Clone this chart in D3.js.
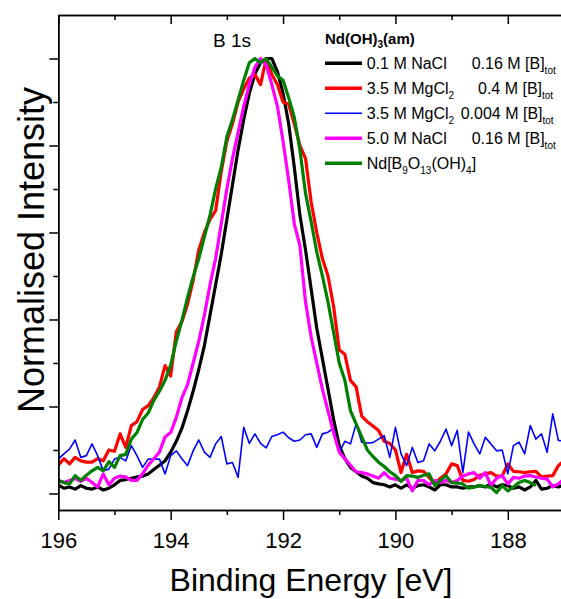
<!DOCTYPE html>
<meta charset="utf-8">
<script src="https://d3js.org/d3.v7.min.js"></script>
<style>
  body { margin: 0; background: #fff; }
  text { font-family: "Liberation Sans", Arial, sans-serif; }
</style>
<div id="chart"></div>
<script>

// binding energy grid (eV), 0.1 eV steps
var energy = [
  196.0,195.9,195.8,195.7,195.6,195.5,195.4,195.3,195.2,195.1,
  195.0,194.9,194.8,194.7,194.6,194.5,194.4,194.3,194.2,194.1,
  194.0,193.9,193.8,193.7,193.6,193.5,193.4,193.3,193.2,193.1,
  193.0,192.9,192.8,192.7,192.6,192.5,192.4,192.3,192.2,192.1,
  192.0,191.9,191.8,191.7,191.6,191.5,191.4,191.3,191.2,191.1,
  191.0,190.9,190.8,190.7,190.6,190.5,190.4,190.3,190.2,190.1,
  190.0,189.9,189.8,189.7,189.6,189.5,189.4,189.3,189.2,189.1,
  189.0,188.9,188.8,188.7,188.6,188.5,188.4,188.3,188.2,188.1,
  188.0,187.9,187.8,187.7,187.6,187.5,187.4,187.3,187.2,187.1,
  187.0
];

// 0.1 M NaCl, 0.16 M [B]tot
var nacl01 = [
  0.020,0.012,0.015,0.010,0.018,0.012,0.010,0.015,0.008,0.012,
  0.020,0.030,0.032,0.035,0.038,0.040,0.045,0.055,0.065,0.075,
  0.095,0.120,0.150,0.190,0.235,0.285,0.340,0.410,0.480,0.550,
  0.630,0.710,0.790,0.860,0.920,0.965,0.990,1.000,1.000,0.970,
  0.920,0.850,0.750,0.640,0.560,0.470,0.380,0.310,0.240,0.170,
  0.110,0.080,0.060,0.050,0.040,0.035,0.025,0.022,0.020,0.015,
  0.020,0.012,0.020,0.012,0.018,0.020,0.015,0.008,0.020,0.020,
  0.015,0.015,0.012,0.015,0.015,0.018,0.015,0.022,0.015,0.020,
  0.018,0.012,0.015,0.008,0.015,0.030,0.010,0.012,0.018,0.015,
  0.020
];

// 3.5 M MgCl2, 0.4 M [B]tot
var mgcl04 = [
  0.065,0.080,0.068,0.083,0.075,0.072,0.072,0.080,0.075,0.100,
  0.097,0.137,0.106,0.156,0.165,0.193,0.202,0.220,0.245,0.294,
  0.270,0.372,0.395,0.435,0.490,0.560,0.600,0.630,0.650,0.740,
  0.810,0.850,0.900,0.930,0.955,0.963,0.940,1.000,0.963,0.940,
  0.900,0.895,0.850,0.800,0.770,0.670,0.600,0.540,0.500,0.430,
  0.330,0.320,0.260,0.245,0.178,0.165,0.155,0.145,0.120,0.115,
  0.100,0.048,0.090,0.048,0.052,0.051,0.037,0.022,0.035,0.045,
  0.068,0.064,0.030,0.028,0.032,0.042,0.045,0.048,0.040,0.040,
  0.068,0.051,0.050,0.048,0.050,0.051,0.038,0.040,0.041,0.064,
  0.075
];

// 3.5 M MgCl2, 0.004 M [B]tot
var mgcl0004 = [
  0.079,0.091,0.102,0.123,0.083,0.087,0.114,0.087,0.052,0.056,
  0.079,0.083,0.075,0.110,0.087,0.060,0.079,0.079,0.079,0.045,
  0.087,0.098,0.080,0.064,0.098,0.123,0.095,0.083,0.114,0.131,
  0.068,0.071,0.037,0.152,0.115,0.137,0.115,0.105,0.131,0.135,
  0.141,0.128,0.120,0.123,0.135,0.137,0.106,0.137,0.141,0.150,
  0.095,0.120,0.114,0.160,0.118,0.116,0.117,0.125,0.133,0.083,
  0.152,0.091,0.064,0.106,0.071,0.075,0.114,0.098,0.120,0.148,
  0.110,0.145,0.048,0.141,0.114,0.091,0.129,0.114,0.098,0.100,
  0.045,0.110,0.118,0.091,0.156,0.125,0.137,0.095,0.183,0.122,
  0.120
];

// 5.0 M NaCl, 0.16 M [B]tot
var nacl50 = [
  0.030,0.025,0.030,0.035,0.028,0.035,0.025,0.015,0.045,0.020,
  0.035,0.040,0.038,0.030,0.030,0.045,0.065,0.080,0.095,0.130,
  0.140,0.175,0.220,0.250,0.300,0.350,0.410,0.480,0.540,0.620,
  0.700,0.770,0.830,0.890,0.940,0.980,1.000,0.985,0.940,0.890,
  0.810,0.720,0.620,0.570,0.440,0.360,0.300,0.240,0.190,0.140,
  0.095,0.080,0.065,0.050,0.048,0.045,0.040,0.035,0.048,0.035,
  0.033,0.030,0.035,0.006,0.030,0.030,0.020,0.030,0.025,0.030,
  0.025,0.030,0.040,0.045,0.048,0.035,0.048,0.018,0.035,0.041,
  0.022,0.037,0.035,0.040,0.041,0.038,0.035,0.033,0.015,0.022,
  0.033
];

// Nd[B9O13(OH)4] reference (ends at 187.5 eV)
var ndBorate = [
  0.030,0.025,0.022,0.041,0.030,0.042,0.052,0.060,0.052,0.073,
  0.060,0.087,0.090,0.125,0.140,0.170,0.185,0.214,0.235,0.260,
  0.295,0.350,0.398,0.450,0.498,0.540,0.590,0.640,0.700,0.750,
  0.820,0.860,0.905,0.950,0.990,1.000,0.990,1.000,0.980,0.960,
  0.950,0.910,0.865,0.790,0.690,0.625,0.555,0.500,0.440,0.370,
  0.300,0.260,0.190,0.160,0.130,0.100,0.085,0.072,0.062,0.050,
  0.041,0.028,0.041,0.040,0.037,0.042,0.045,0.018,0.030,0.041,
  0.025,0.024,0.022,0.012,0.015,0.018,0.016,0.014,0.002,0.018,
  0.006,0.015,0.025,0.030,0.025,0.018
];

var majorX = [196, 194, 192, 190, 188];
var minorX = [195, 193, 191, 189, 187];
var majorY = [0, 0.2, 0.4, 0.6, 0.8, 1.0];
var minorY = [0.1, 0.3, 0.5, 0.7, 0.9];

var series = [
  {values: nacl01,   color: "#000000", width: 3.2},
  {values: mgcl04,   color: "#ff0000", width: 3.2},
  {values: mgcl0004, color: "#0000ff", width: 1.6},
  {values: nacl50,   color: "#ff00ff", width: 3.2},
  {values: ndBorate, color: "#008000", width: 3.2}
];

var W = 561, H = 599;
var plotL = 58.3, plotT = 15, plotB = 510, plotR = 564;

var svg = d3.select("#chart").append("svg")
  .attr("width", W).attr("height", H);

var x = d3.scaleLinear().domain([196, 187]).range([plotL, plotR]);
var y = d3.scaleLinear().domain([-0.038, 1.10]).range([plotB, plotT]);

svg.append("clipPath").attr("id", "plotclip")
  .append("rect").attr("x", plotL).attr("y", plotT)
  .attr("width", plotR - plotL).attr("height", plotB - plotT);

// curves
var line = d3.line()
  .x(function(d, i) { return x(energy[i]); })
  .y(function(d) { return y(d); });

svg.append("g").attr("clip-path", "url(#plotclip)")
  .selectAll("path")
  .data(series)
  .enter().append("path")
    .attr("fill", "none")
    .attr("stroke", function(d) { return d.color; })
    .attr("stroke-width", function(d) { return d.width; })
    .attr("stroke-linejoin", "round")
    .attr("d", function(d) { return line(d.values); });

// axes
function styleAxis(g) {
  g.selectAll("path, line").attr("stroke", "#000").attr("stroke-width", 1.5);
  g.selectAll("text").attr("font-size", 22).attr("fill", "#000")
    .attr("font-family", "'Liberation Sans', Arial, sans-serif");
}

svg.append("g").attr("transform", "translate(0," + plotB + ")")
  .call(d3.axisBottom(x).tickValues(minorX).tickSize(5).tickFormat("").tickSizeOuter(0))
  .call(styleAxis);
svg.append("g").attr("transform", "translate(0," + plotB + ")")
  .call(d3.axisBottom(x).tickValues(majorX).tickSize(10).tickPadding(12)
    .tickFormat(d3.format("d")).tickSizeOuter(0))
  .call(styleAxis);

svg.append("g").attr("transform", "translate(0," + plotT + ")")
  .call(d3.axisTop(x).tickValues(minorX).tickSize(-5).tickFormat("").tickSizeOuter(0))
  .call(styleAxis);
svg.append("g").attr("transform", "translate(0," + plotT + ")")
  .call(d3.axisTop(x).tickValues(majorX).tickSize(-9).tickFormat("").tickSizeOuter(0))
  .call(styleAxis);

svg.append("g").attr("transform", "translate(" + plotL + ",0)")
  .call(d3.axisLeft(y).tickValues(minorY).tickSize(5).tickFormat("").tickSizeOuter(0))
  .call(styleAxis);
svg.append("g").attr("transform", "translate(" + plotL + ",0)")
  .call(d3.axisLeft(y).tickValues(majorY).tickSize(9).tickFormat("").tickSizeOuter(0))
  .call(styleAxis);

// axis titles
svg.append("text")
  .attr("x", 311).attr("y", 591)
  .attr("text-anchor", "middle")
  .attr("font-size", 32)
  .text("Binding Energy [eV]");

svg.append("text")
  .attr("transform", "translate(44,250) rotate(-90)")
  .attr("text-anchor", "middle")
  .attr("font-size", 36)
  .text("Normalised Intensity");

svg.append("text")
  .attr("x", 213).attr("y", 46.5)
  .attr("font-size", 19)
  .text("B 1s");

// legend
var lg = svg.append("g");
var title = lg.append("text").attr("x", 325).attr("y", 44)
  .attr("font-size", 15).attr("font-weight", "bold");
title.append("tspan").text("Nd(OH)");
title.append("tspan").attr("font-size", 10).attr("dy", 4).text("3");
title.append("tspan").attr("dy", -4).text("(am)");

var legendRows = [
  {color: "#000000", width: 3.5, parts: [["0.1 M NaCl"]], conc: "0.16 M [B]", cx: 471.7},
  {color: "#ff0000", width: 3.5, parts: [["3.5 M MgCl"], ["2", "sub"]], conc: "0.4 M [B]", cx: 478},
  {color: "#0000ff", width: 1.6, parts: [["3.5 M MgCl"], ["2", "sub"]], conc: "0.004 M [B]", cx: 460.7},
  {color: "#ff00ff", width: 3.5, parts: [["5.0 M NaCl"]], conc: "0.16 M [B]", cx: 471.7},
  {color: "#008000", width: 3.5, parts: [["Nd[B"], ["9", "sub"], ["O"], ["13", "sub"], ["(OH)"], ["4", "sub"], ["]"]], conc: null}
];
var rowY = [63.3, 88.3, 113.3, 138.3, 163.3];

legendRows.forEach(function(r, i) {
  lg.append("line")
    .attr("x1", 325).attr("x2", 362)
    .attr("y1", rowY[i]).attr("y2", rowY[i])
    .attr("stroke", r.color).attr("stroke-width", r.width);
  var t = lg.append("text").attr("x", 366.7).attr("y", rowY[i] + 5.7)
    .attr("font-size", 16);
  var shifted = false;
  r.parts.forEach(function(p) {
    var ts = t.append("tspan").text(p[0]);
    if (p[1] === "sub") {
      ts.attr("font-size", 10).attr("dy", shifted ? 0 : 5);
      shifted = true;
    } else if (shifted) {
      ts.attr("dy", -5);
      shifted = false;
    }
  });
  if (r.conc) {
    var c = lg.append("text").attr("x", r.cx).attr("y", rowY[i] + 5.7)
      .attr("font-size", 16);
    c.append("tspan").text(r.conc);
    c.append("tspan").attr("font-size", 10).attr("dy", 5).text("tot");
  }
});

</script>
